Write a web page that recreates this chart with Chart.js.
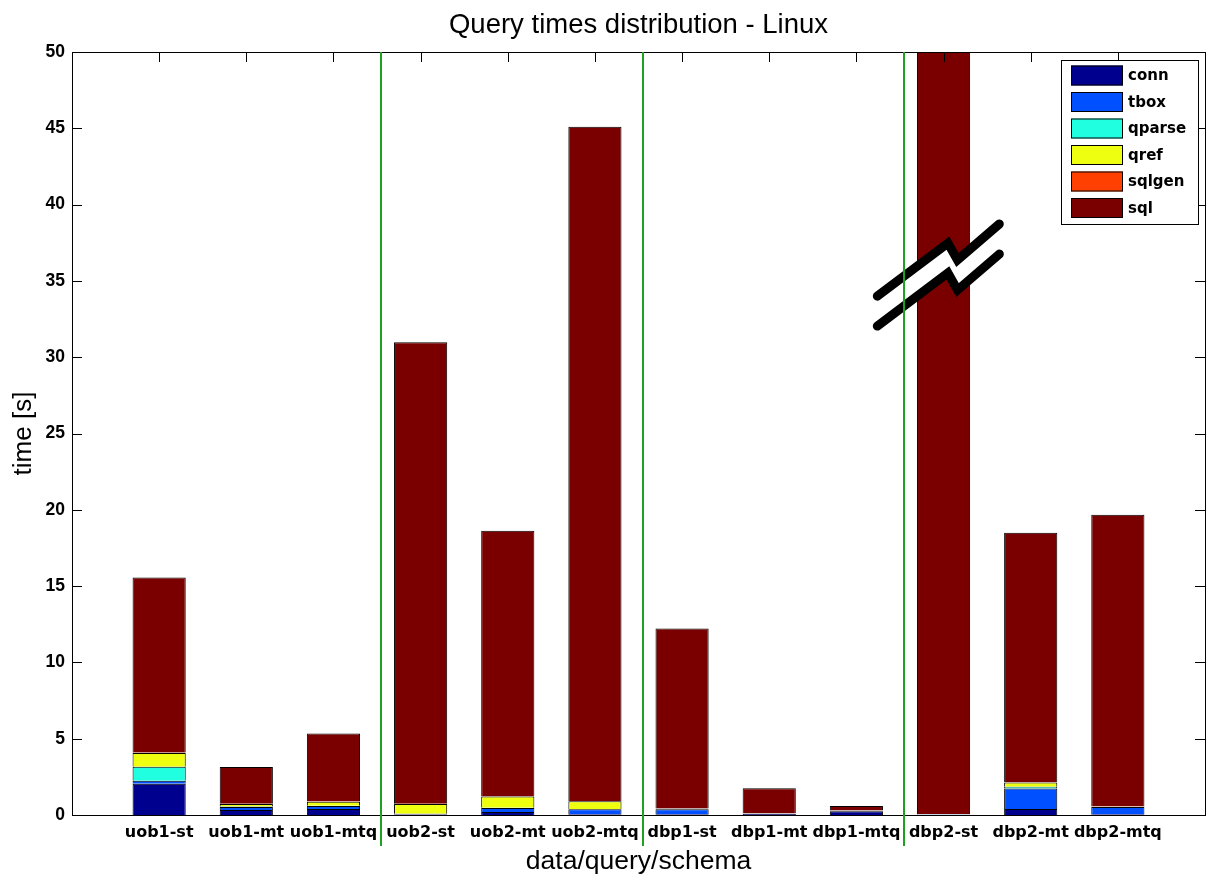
<!DOCTYPE html>
<html>
<head>
<meta charset="utf-8">
<script src="https://cdn.jsdelivr.net/npm/chart.js@4.4.0/dist/chart.umd.min.js"></script>
<style>
  html, body { margin: 0; padding: 0; background: #fff; }
  canvas { display: block; }
</style>
</head>
<body>
<canvas id="chart" width="1208" height="878"></canvas>
<script>
const categories = ['uob1-st', 'uob1-mt', 'uob1-mtq', 'uob2-st', 'uob2-mt', 'uob2-mtq',
                    'dbp1-st', 'dbp1-mt', 'dbp1-mtq', 'dbp2-st', 'dbp2-mt', 'dbp2-mtq'];

// seconds per phase (dbp2-st sql goes off the top)
const conn   = [2.05, 0.33, 0.39, 0.03, 0.20, 0.05, 0.05, 0.08, 0.25, 0.02, 0.39, 0.05];
const tbox   = [0.20, 0.20, 0.20, 0.03, 0.26, 0.33, 0.33, 0.02, 0.02, 0.02, 1.35, 0.47];
const qparse = [0.92, 0.02, 0.02, 0.02, 0.02, 0.02, 0.01, 0.01, 0.01, 0.01, 0.11, 0.01];
const qref   = [0.90, 0.17, 0.26, 0.64, 0.74, 0.50, 0.02, 0.01, 0.01, 0.01, 0.28, 0.01];
const sqlgen = [0.03, 0.02, 0.02, 0.02, 0.02, 0.02, 0.01, 0.01, 0.01, 0.01, 0.02, 0.02];
const sql    = [11.46, 2.41, 4.45, 30.24, 17.39, 44.18, 11.80, 1.63, 0.29, 61.90, 16.35, 19.11];

const yTicks = [0, 5, 10, 15, 20, 25, 30, 35, 40, 45, 50];

// group separators, in x units (category n sits at x = n)
const separators = [3.55, 6.55, 9.55];

// axis break drawn over the dbp2-st bar
const breakUpper = [[9.24, 34.0], [10.05, 37.48], [10.16, 36.37], [10.64, 38.73]];
const breakLower = [[9.24, 32.04], [10.05, 35.52], [10.16, 34.4], [10.64, 36.76]];

const toXY = arr => arr.map((v, i) => ({ x: i + 1, y: v }));

const series = [
  { label: 'conn',   data: conn,   color: '#00008f' },
  { label: 'tbox',   data: tbox,   color: '#0050ff' },
  { label: 'qparse', data: qparse, color: '#20ffdf' },
  { label: 'qref',   data: qref,   color: '#efff10' },
  { label: 'sqlgen', data: sqlgen, color: '#ff4000' },
  { label: 'sql',    data: sql,    color: '#7a0000' }
];

const decor = {
  id: 'decor',
  afterDatasetsDraw(chart) {
    const ctx = chart.ctx;
    const area = chart.chartArea;
    const xs = chart.scales.x;
    const ys = chart.scales.y;
    const pt = p => [xs.getPixelForValue(p[0]), ys.getPixelForValue(p[1])];

    ctx.save();

    // break mark
    const up = breakUpper.map(pt);
    const lo = breakLower.map(pt);
    ctx.fillStyle = '#fff';
    ctx.beginPath();
    up.forEach((p, i) => i ? ctx.lineTo(p[0], p[1]) : ctx.moveTo(p[0], p[1]));
    lo.slice().reverse().forEach(p => ctx.lineTo(p[0], p[1]));
    ctx.closePath();
    ctx.fill();
    ctx.strokeStyle = '#000';
    ctx.lineWidth = 9;
    ctx.lineCap = 'round';
    [up, lo].forEach(line => {
      ctx.beginPath();
      line.forEach((p, i) => i ? ctx.lineTo(p[0], p[1]) : ctx.moveTo(p[0], p[1]));
      ctx.stroke();
    });

    // box + inward ticks
    ctx.lineCap = 'butt';
    ctx.lineWidth = 1;
    ctx.strokeStyle = '#000';
    ctx.strokeRect(Math.round(area.left) + 0.5, Math.round(area.top) + 0.5,
                   Math.round(area.right - area.left), Math.round(area.bottom - area.top));
    ctx.beginPath();
    yTicks.forEach(v => {
      const y = Math.round(ys.getPixelForValue(v)) + 0.5;
      ctx.moveTo(area.left, y); ctx.lineTo(area.left + 10, y);
      ctx.moveTo(area.right, y); ctx.lineTo(area.right - 10, y);
    });
    categories.forEach((c, i) => {
      const x = Math.round(xs.getPixelForValue(i + 1)) + 0.5;
      ctx.moveTo(x, area.top); ctx.lineTo(x, area.top + 10);
    });
    ctx.stroke();

    // green separators
    ctx.strokeStyle = '#1fa01f';
    ctx.lineWidth = 2;
    ctx.beginPath();
    separators.forEach(s => {
      const x = Math.round(xs.getPixelForValue(s));
      ctx.moveTo(x, area.top); ctx.lineTo(x, area.bottom + 31);
    });
    ctx.stroke();

    // legend box
    const bx = area.right - 144, by = area.top + 8, bw = 137, bh = 164;
    ctx.fillStyle = '#fff';
    ctx.fillRect(bx, by, bw, bh);
    ctx.strokeStyle = '#000';
    ctx.lineWidth = 1;
    ctx.strokeRect(bx + 0.5, by + 0.5, bw, bh);
    ctx.font = 'bold 15px "DejaVu Sans"';
    ctx.textBaseline = 'middle';
    ctx.textAlign = 'left';
    chart.data.datasets.forEach((ds, i) => {
      const cy = by + 15.5 + i * 26.5;
      ctx.fillStyle = ds.backgroundColor;
      ctx.fillRect(bx + 10, cy - 10, 52, 20);
      ctx.strokeStyle = '#000';
      ctx.strokeRect(bx + 10.5, cy - 9.5, 51, 19);
      ctx.fillStyle = '#000';
      ctx.fillText(ds.label, bx + 67, cy + 1);
    });

    ctx.restore();
  }
};

new Chart(document.getElementById('chart'), {
  type: 'bar',
  data: {
    datasets: series.map(s => ({
      label: s.label,
      data: toXY(s.data),
      backgroundColor: s.color,
      borderColor: '#000',
      borderWidth: 1,
      barPercentage: 0.61,
      categoryPercentage: 1
    }))
  },
  options: {
    responsive: false,
    animation: false,
    layout: { padding: { left: 0, right: 3, top: 0, bottom: 0 } },
    plugins: {
      legend: { display: false },
      tooltip: { enabled: false },
      title: {
        display: true,
        fullSize: false,
        text: 'Query times distribution - Linux',
        color: '#000',
        font: { family: 'Liberation Sans', size: 27.5, weight: 'normal' },
        padding: { top: 9, bottom: 10 }
      }
    },
    scales: {
      x: {
        type: 'linear',
        min: 0,
        max: 13,
        offset: false,
        stacked: true,
        afterBuildTicks: s => { s.ticks = categories.map((c, i) => ({ value: i + 1 })); },
        afterFit: s => { s.height = 63; },
        ticks: {
          autoSkip: false,
          maxRotation: 0,
          padding: 8,
          color: '#000',
          font: { family: 'DejaVu Sans', size: 16, weight: 'bold' },
          callback: (v, i) => categories[i]
        },
        grid: { display: false, drawTicks: false },
        border: { display: false },
        title: {
          display: true,
          text: 'data/query/schema',
          color: '#000',
          font: { family: 'Liberation Sans', size: 26.5 },
          padding: { top: 6, bottom: 0 }
        }
      },
      y: {
        min: 0,
        max: 50,
        stacked: true,
        afterFit: s => { s.width = 72; },
        ticks: {
          stepSize: 5,
          padding: 7,
          color: '#000',
          font: { family: 'Liberation Sans', size: 17.5, weight: 'bold' }
        },
        grid: { display: false, drawTicks: false },
        border: { display: false },
        title: {
          display: true,
          text: 'time [s]',
          color: '#000',
          font: { family: 'Liberation Sans', size: 26 },
          padding: { top: 8.4, bottom: 0 }
        }
      }
    }
  },
  plugins: [decor]
});
</script>
</body>
</html>
